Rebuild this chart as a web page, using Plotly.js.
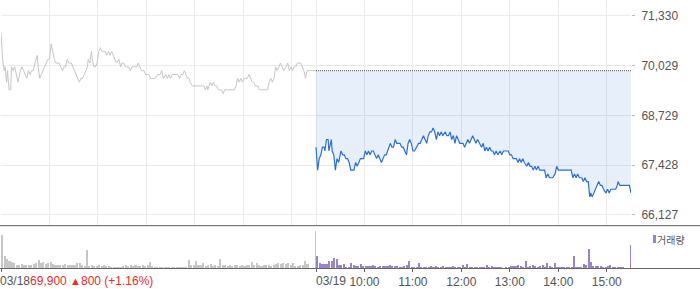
<!DOCTYPE html>
<html>
<head>
<meta charset="utf-8">
<script src="https://cdn.plot.ly/plotly-3.0.1.min.js"></script>
<style>html,body{margin:0;padding:0;background:#fff;}#chart{width:700px;height:289px;}</style>
</head>
<body>
<div id="chart"></div>
<script>
// ---- DATA ----
// minutes after 09:00 for each day, prices in KRW
var day1Label = "03/18";
var day2Label = "03/19";
var prevClose = 69900;
var day1Summary = ["69,900 ", "▲", "800 (+1.16%)"];

var t1 = [0,2,4,5,7,8,10,12,13,15,17,19,21,24,26,28,30,32,34,36,38,40,42,45,46,48,50,52,54,57,58,60,62,64,66,68,70,72,74,76,78,80,82,84,87,89,91,93,95,97,99,101,103,105,107,108,110,112,113,115,117,119,121,123,125,127,129,131,133,135,137,139,141,143,146,148,150,152,154,156,158,160,162,164,166,168,170,172,174,177,179,181,183,185,187,189,191,194,197,199,201,204,206,208,210,212,214,216,219,221,223,225,227,229,231,233,234,237,240,245,251,253,255,256,259,261,263,265,267,269,271,273,275,277,280,283,286,289,291,293,295,297,299,301,303,305,307,309,311,313,315,318,320,323,326,328,330,332,334,336,338,340,342,344,346,348,350,353,355,357,359,361,363,365,367,369,371,373,375,377,379,383,390];
var p1 = [70900,70200,69900,70000,69600,69900,69400,69400,70000,69900,70000,69800,69600,69900,70000,69900,69800,69700,69900,69800,69900,69900,70100,70300,70000,69700,69800,69900,70000,70100,70200,70200,70600,70400,70200,70100,70100,70100,70000,69900,70000,70000,70200,70100,70100,70000,69900,69800,69700,69600,69700,69700,69800,69900,70000,70200,70100,70400,70200,70000,70000,70100,70400,70500,70400,70400,70400,70300,70400,70300,70400,70300,70200,70100,70200,70000,70100,70100,70000,70000,70000,69900,70000,70000,70000,70000,70100,70000,69900,69900,69800,69800,69800,69700,69700,69700,69700,69800,69800,69900,69700,69800,69700,69800,69700,69800,69800,69800,69800,69700,69800,69800,69900,69800,69700,69700,69600,69500,69500,69500,69500,69400,69500,69400,69600,69500,69600,69500,69500,69400,69400,69400,69300,69400,69400,69400,69400,69400,69500,69700,69600,69700,69600,69700,69700,69700,69800,69700,69600,69600,69500,69500,69400,69400,69400,69400,69400,69600,69700,69600,69700,70000,69900,70000,70100,70000,69900,70000,70100,69900,70000,69900,70000,70000,70100,70100,70100,70000,69900,69700,69900,69900,69900];

var t2 = [0,2,4,6,8,10,11,13,15,16,19,20,22,24,26,28,31,33,35,37,39,41,43,45,47,49,51,53,55,59,61,63,65,67,69,71,73,75,77,79,81,83,85,87,89,92,94,96,98,100,102,104,106,108,110,112,114,116,118,120,122,125,127,129,131,133,135,137,139,141,143,145,147,149,151,153,155,157,160,162,164,166,168,170,172,174,176,178,180,182,184,186,188,190,192,194,196,198,200,203,205,207,209,211,213,215,217,219,221,223,225,228,230,232,234,238,240,242,244,246,248,250,252,254,256,258,261,263,265,267,269,271,273,275,277,279,281,283,285,287,289,291,293,296,298,300,302,304,306,308,310,312,314,316,318,320,322,324,326,329,331,333,335,337,339,340,342,344,346,348,350,352,354,356,359,361,363,365,367,369,371,373,374,376,380,384,388,390];
var p2 = [67900,67300,67600,67700,67900,67900,67800,68100,68100,67800,68100,67800,67700,67300,67600,67500,67800,67700,67700,67600,67600,67500,67300,67300,67300,67500,67400,67500,67600,67600,67800,67700,67800,67700,67800,67800,67700,67600,67700,67600,67500,67600,67700,67700,67800,68000,67900,67900,68100,68000,68000,68000,67900,67900,67800,67700,68000,68100,68000,67800,67800,67900,68000,68000,68100,68200,68100,68000,68200,68300,68300,68400,68300,68100,68300,68200,68300,68200,68300,68200,68200,68300,68100,68200,68000,68200,68100,68000,68000,68000,67900,68000,68100,68000,68100,68200,68100,68000,68100,68000,67900,68000,67800,67900,67800,67900,67800,67800,67700,67800,67700,67800,67700,67800,67800,67800,67700,67700,67600,67600,67600,67500,67600,67500,67600,67500,67400,67500,67400,67400,67300,67400,67300,67400,67300,67300,67300,67300,67100,67200,67100,67100,67100,67200,67400,67300,67300,67300,67300,67300,67300,67300,67300,67300,67100,67200,67100,67200,67100,67100,67000,67100,67000,67000,66600,66700,66600,66700,66800,66900,67000,66900,66900,66800,66700,66800,66700,66800,66800,66800,66800,66900,67000,66900,66900,66900,66900,66700];

// volume, 3-minute bins from 09:00 to 15:21, plus closing-auction print
var vol1 = [33,12,9,7,6,5,3,3,4,3,3,3,3,4,5,8,5,6,4,5,6,4,3,3,3,3,4,3,3,3,3,5,5,3,2,18,2,3,2,2,3,2,3,2,2,1,1,1,1,1,2,3,2,3,2,3,2,2,3,2,3,6,2,1,1,1,1,1,1,1,1,1,1,1,1,1,1,8,3,3,7,3,3,5,2,3,4,2,3,2,9,3,3,2,3,2,3,3,2,3,2,3,3,6,3,5,3,2,3,3,3,2,3,4,5,4,5,4,5,3,5,2,2,3,3,7,4];
var vol1Close = 37;
var vol2 = [12,5,4,4,4,7,7,10,9,3,3,4,1,1,5,3,2,2,4,2,2,2,2,3,2,1,2,2,2,2,3,2,2,2,1,1,2,3,7,1,1,1,5,1,1,1,1,2,1,2,1,1,2,1,1,1,2,1,1,1,3,1,4,1,1,1,1,1,1,1,3,1,2,1,1,1,1,0,1,1,2,2,2,3,2,1,7,1,2,3,2,1,2,3,1,5,2,1,5,1,1,1,1,1,1,1,12,1,1,1,4,3,19,6,2,2,2,2,1,1,2,3,1,1,1,1,1];
var vol2Close = 23;

var yTickVals = [66127, 67428, 68729, 70029, 71330];
var yTickText = ["66,127", "67,428", "68,729", "70,029", "71,330"];
var hourTickVals = [0, 390, 450, 510, 570, 630, 690, 750];
var hourTickText = ["", "", "10:00", "11:00", "12:00", "13:00", "14:00", "15:00"];
var gridVals = [0, 60, 120, 180, 240, 300, 360, 390, 450, 510, 570, 630, 690, 750];
var legendLabel = "거래량";

// ---- BUILD ----
var DAY = 390;
var x2 = t2.map(function (t) { return t + DAY; });

function binsX(offset, n) { var a = []; for (var i = 0; i < n; i++) a.push(offset + 1.5 + 3 * i); return a; }
var vx1 = binsX(0, vol1.length).concat([DAY - 1]);
var vy1 = vol1.concat([vol1Close]);
var vw1 = vol1.map(function () { return 2.6; }).concat([1.2]);
var vx2 = binsX(DAY, vol2.length).concat([2 * DAY - 1]);
var vy2 = vol2.concat([vol2Close]);
var vw2 = vol2.map(function () { return 2.6; }).concat([1.2]);

var FONT = "Liberation Sans, Arial, sans-serif";
var KFONT = "Noto Sans CJK KR, sans-serif";

var traces = [
  { x: t1, y: p1, type: "scatter", mode: "lines", line: { color: "#c6c6c6", width: 1 }, xaxis: "x", yaxis: "y", hoverinfo: "skip" },
  { x: [DAY, 2 * DAY], y: [prevClose, prevClose], type: "scatter", mode: "lines", line: { color: "#555", width: 1, dash: "1px,1px" }, xaxis: "x", yaxis: "y", hoverinfo: "skip" },
  { x: x2, y: p2, type: "scatter", mode: "lines", fill: "tonexty", fillcolor: "rgba(60,120,220,0.12)", line: { color: "#2b6fd6", width: 1.2 }, xaxis: "x", yaxis: "y", hoverinfo: "skip" },
  { x: vx1, y: vy1, width: vw1, type: "bar", marker: { color: "#c6c6c6", line: { width: 0 } }, xaxis: "x2", yaxis: "y2", hoverinfo: "skip" },
  { x: vx2, y: vy2, width: vw2, type: "bar", marker: { color: "#9a83c9", line: { width: 0 } }, xaxis: "x2", yaxis: "y2", hoverinfo: "skip" }
];

var H = 268; // plot height in px
function py(yPage) { return (H - yPage) / H; }
function px(xPage) { return (xPage - 1) / 630; }

var layout = {
  width: 700, height: 289,
  margin: { l: 1, r: 69, t: 0, b: 21, pad: 0 },
  paper_bgcolor: "#fff", plot_bgcolor: "#fff",
  showlegend: false, barmode: "overlay", bargap: 0,
  font: { family: FONT, size: 12, color: "#555" },
  xaxis: { domain: [0, 1], range: [0, 2 * DAY], anchor: "y", tickmode: "array", tickvals: gridVals, showticklabels: false, ticks: "", showgrid: true, gridcolor: "#ebebeb", gridwidth: 1, zeroline: false, showline: false, fixedrange: true },
  yaxis: { domain: [py(225), 1], range: [65865, 71748], side: "right", tickmode: "array", tickvals: yTickVals, ticktext: yTickText, ticks: "outside", ticklen: 3, tickcolor: "#bbb", ticklabelstandoff: 4, tickfont: { family: FONT, size: 12, color: "#555" }, showgrid: true, gridcolor: "#ebebeb", gridwidth: 1, zeroline: false, showline: false, fixedrange: true },
  xaxis2: { domain: [0, 1], range: [0, 2 * DAY], anchor: "y2", tickmode: "array", tickvals: hourTickVals, ticktext: hourTickText, ticks: "outside", ticklen: 3, tickcolor: "#666", tickfont: { family: FONT, size: 12, color: "#555" }, showgrid: false, zeroline: false, showline: false, fixedrange: true },
  yaxis2: { domain: [0, py(226)], range: [0, 42], showticklabels: false, showgrid: false, zeroline: false, showline: false, fixedrange: true },
  shapes: [
    { type: "line", xref: "paper", yref: "paper", x0: -0.01, x1: 1.12, y0: py(225.5), y1: py(225.5), line: { color: "#777", width: 1 } },
    { type: "line", xref: "paper", yref: "paper", x0: -0.01, x1: 1.12, y0: py(226.5), y1: py(226.5), line: { color: "#e6e6e6", width: 1 } },
    { type: "line", xref: "paper", yref: "paper", x0: -0.01, x1: 1.12, y0: py(268.5), y1: py(268.5), line: { color: "#666", width: 1 } },
    { type: "rect", xref: "paper", yref: "paper", x0: px(653), x1: px(656), y0: py(243), y1: py(235), fillcolor: "#9a83c9", line: { width: 0 } }
  ],
  annotations: [
    { xref: "paper", yref: "paper", x: px(0), y: py(281), xanchor: "left", yanchor: "middle", showarrow: false, xshift: -2,
      text: day1Label + "<span style='color:#ee2a2a'>" + day1Summary[0] + "</span><span style='color:#ee2a2a;font-size:11px'>" + day1Summary[1] + "</span><span style='color:#ee2a2a'>" + day1Summary[2] + "</span>",
      font: { family: FONT, size: 12, color: "#555" } },
    { xref: "paper", yref: "paper", x: px(316), y: py(281), xanchor: "left", yanchor: "middle", showarrow: false, xshift: -2,
      text: day2Label, font: { family: FONT, size: 12, color: "#555" } },
    { xref: "paper", yref: "paper", x: px(657), y: py(239), xanchor: "left", yanchor: "middle", showarrow: false, xshift: -2,
      text: legendLabel, font: { family: KFONT, size: 10, color: "#555" } }
  ]
};

Plotly.newPlot("chart", traces, layout, { displayModeBar: false, staticPlot: true });
</script>
</body>
</html>
